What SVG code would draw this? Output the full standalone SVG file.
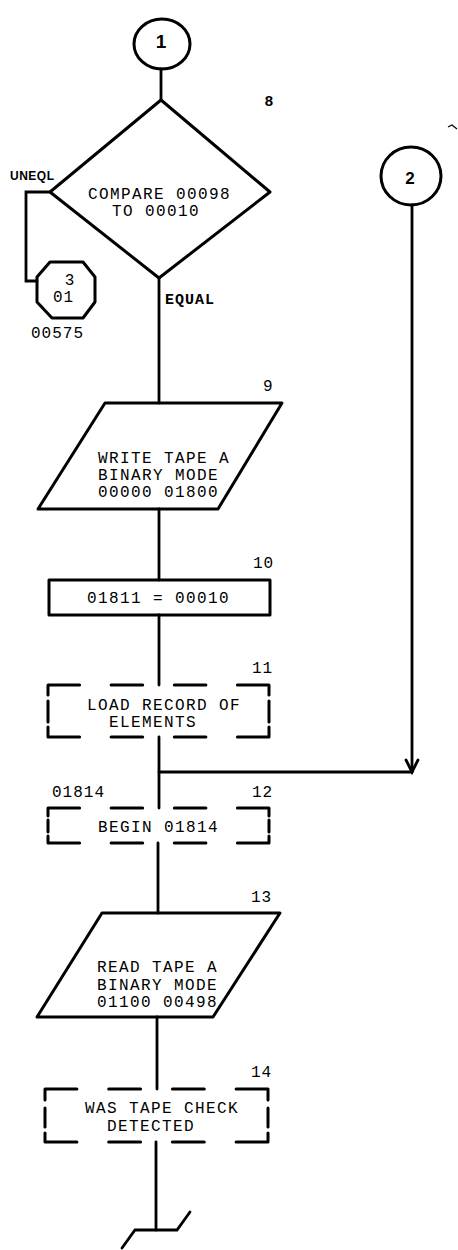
<svg xmlns="http://www.w3.org/2000/svg" width="458" height="1250" viewBox="0 0 458 1250">
<style>
.s{fill:none;stroke:#000;stroke-width:3;stroke-linejoin:round;stroke-linecap:round}
.c{fill:none;stroke:#000;stroke-width:2.8;stroke-linecap:round}
.t{font-family:"Liberation Mono","DejaVu Sans Mono",monospace;font-size:16px;letter-spacing:1.4px;fill:#000}
.n{font-family:"Liberation Mono","DejaVu Sans Mono",monospace;font-size:16px;letter-spacing:1px;fill:#000}
.b{font-family:"Liberation Sans","DejaVu Sans",sans-serif;font-size:15px;font-weight:bold;fill:#000}
</style>
<rect width="458" height="1250" fill="#fff"/>
<g id="connectors">
<path class="c" d="M161,69 V100"/>
<path class="c" d="M159,278 V403"/>
<path class="c" d="M159,509 V580"/>
<path class="c" d="M159,615 V685"/>
<path class="c" d="M159,737 V808"/>
<path class="c" d="M158,843 V913"/>
<path class="c" d="M157,1017 V1089"/>
<path class="c" d="M156,1142 V1230"/>
<path class="c" d="M50,192 H26 V281 H37"/>
<path class="c" d="M412,205 V772"/>
<path class="c" d="M406,760 L412,772 L418,760"/>
<path class="c" d="M412,772 H159"/>
</g>
<g id="n1">
<ellipse class="s" cx="162" cy="44" rx="28" ry="25"/>
<text class="b" x="161" y="48" text-anchor="middle" style="font-size:19px">1</text>
</g>
<g id="n8">
<path class="s" d="M161,100 L270,192 L159,278 L50,192 Z"/>
<text class="b" x="269" y="106" text-anchor="middle">8</text>
<text class="t" x="88" y="199">COMPARE 00098</text>
<text class="t" x="112" y="216">TO 00010</text>
<text class="b" x="10" y="180" style="font-size:12px;letter-spacing:0.5px">UNEQL</text>
<text class="t" x="165" y="304" style="font-weight:bold;font-size:15px;letter-spacing:1px">EQUAL</text>
</g>
<g id="n3">
<path class="s" d="M50,262 H83 L95,277 V302 L83,318 H52 L37,302 V277 Z"/>
<text class="n" x="70" y="285" text-anchor="middle">3</text>
<text class="n" x="53" y="302">01</text>
<text class="n" x="31" y="338">00575</text>
</g>
<g id="n2">
<ellipse class="s" cx="411" cy="176" rx="30" ry="29"/>
<text class="b" x="410" y="184" text-anchor="middle" style="font-size:17px">2</text>
</g>
<g id="n9">
<path class="s" d="M105,403 H282 L218,509 H38 Z"/>
<text class="n" x="263" y="391">9</text>
<text class="t" x="98" y="463">WRITE TAPE A</text>
<text class="t" x="98" y="480">BINARY MODE</text>
<text class="t" x="98" y="497">00000 01800</text>
</g>
<g id="n10">
<rect class="s" x="49" y="580" width="221" height="35"/>
<text class="n" x="253" y="568">10</text>
<text class="t" x="87" y="603">01811 = 00010</text>
</g>
<g id="n11">
<path class="s" d="M48,695 V685 H79.6 M111.1,685 H142.7 M174.3,685 H205.9 M237.4,685 H269 V695 M48,701 V722 M269,701 V722 M48,727 V737 H79.6 M111.1,737 H142.7 M174.3,737 H205.9 M237.4,737 H269 V727"/>
<text class="n" x="252" y="673">11</text>
<text class="t" x="87" y="710">LOAD RECORD OF</text>
<text class="t" x="109" y="727">ELEMENTS</text>
</g>
<g id="n12">
<path class="s" d="M48,816 V808 H79.6 M111.1,808 H142.7 M174.3,808 H205.9 M237.4,808 H269 V816 M48,820 V832 M269,820 V832 M48,836 V843 H79.6 M111.1,843 H142.7 M174.3,843 H205.9 M237.4,843 H269 V836"/>
<text class="n" x="52" y="797">01814</text>
<text class="n" x="252" y="797">12</text>
<text class="t" x="98" y="832">BEGIN 01814</text>
</g>
<g id="n13">
<path class="s" d="M102,913 H280 L213,1017 H37 Z"/>
<text class="n" x="251" y="902">13</text>
<text class="t" x="97" y="972">READ TAPE A</text>
<text class="t" x="97" y="990">BINARY MODE</text>
<text class="t" x="97" y="1007">01100 00498</text>
</g>
<g id="n14">
<path class="s" d="M45,1100 V1089 H76.9 M108.7,1089 H140.6 M172.4,1089 H204.3 M236.1,1089 H268 V1100 M45,1108 V1127 M268,1108 V1127 M45,1133 V1142 H76.9 M108.7,1142 H140.6 M172.4,1142 H204.3 M236.1,1142 H268 V1133"/>
<text class="n" x="251" y="1077">14</text>
<text class="t" x="85" y="1113">WAS TAPE CHECK</text>
<text class="t" x="107" y="1131">DETECTED</text>
</g>
<g id="break">
<path class="c" d="M122,1248 L135,1230 H177 L190,1212"/>
</g>
<path d="M448,127 L452,125 L457,129" fill="none" stroke="#000" stroke-width="1.2"/>
</svg>
